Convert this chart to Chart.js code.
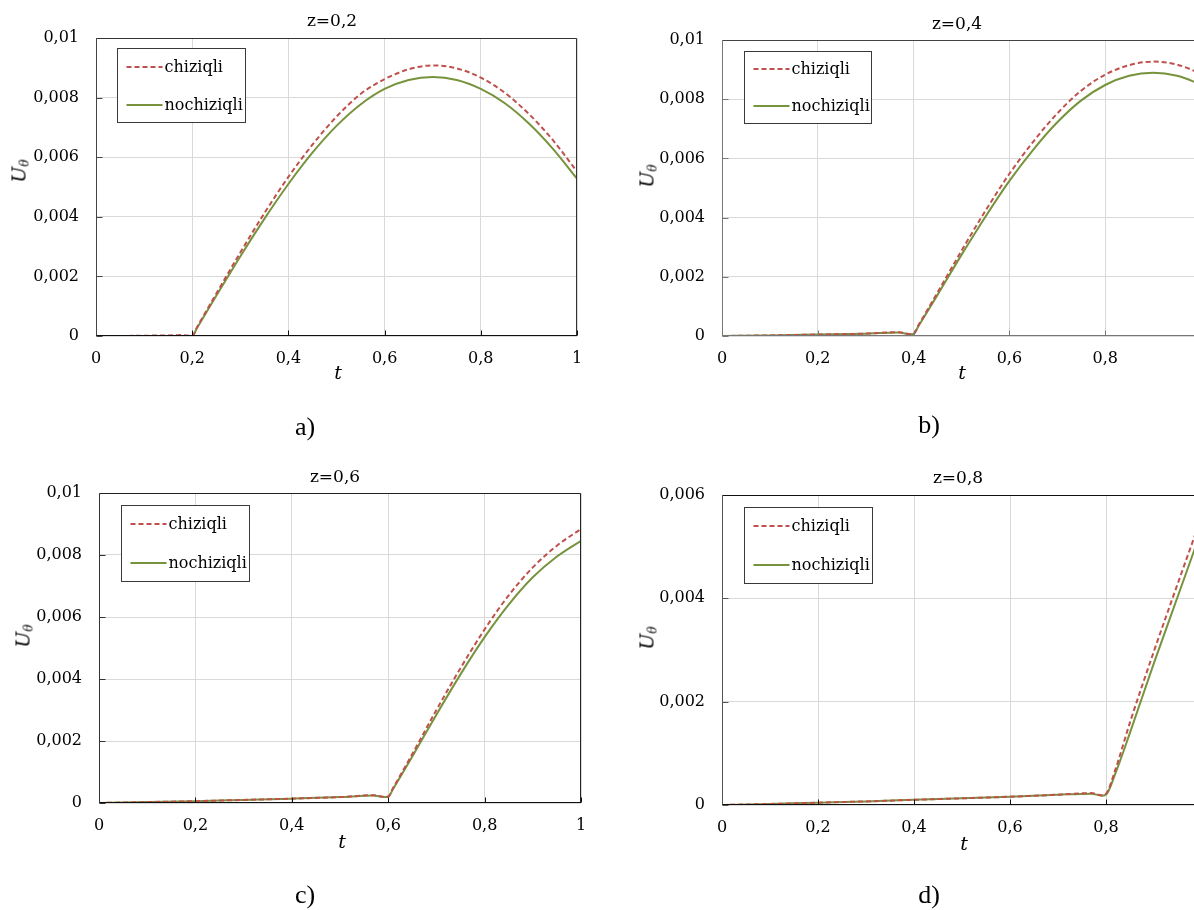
<!DOCTYPE html>
<html><head><meta charset="utf-8">
<script src="https://cdn.jsdelivr.net/npm/chart.js@4.4.1/dist/chart.umd.min.js"></script>
<style>
html,body{margin:0;padding:0;background:#fff;}
body{width:1194px;height:910px;overflow:hidden;position:relative;}
canvas{position:absolute;}
.lbl{position:absolute;transform:translate(-50%,-50%);white-space:nowrap;color:#000;line-height:1;}
.ttl{font-family:"DejaVu Serif";font-size:17px;}
.tx{font-family:"DejaVu Serif";font-style:italic;font-size:19px;}
.uy{font-family:"DejaVu Serif";font-size:19px;transform:translate(-50%,-50%) rotate(-90deg);}
.uy i{font-style:italic;}
.uy sub{font-size:12px;font-style:italic;vertical-align:-3px;}
.cap{font-family:"Liberation Serif";font-size:26px;}
</style></head><body>
<canvas id="ca" width="573" height="358" style="left:26px;top:8px;width:573px;height:358px"></canvas>
<canvas id="cb" width="571" height="356" style="left:652px;top:10px;width:571px;height:356px"></canvas>
<canvas id="cc" width="574" height="370" style="left:29px;top:463px;width:574px;height:370px"></canvas>
<canvas id="cd" width="572" height="370" style="left:652px;top:465px;width:572px;height:370px"></canvas>

<div class="lbl ttl" style="left:332px;top:20px">z=0,2</div>
<div class="lbl ttl" style="left:957px;top:23px">z=0,4</div>
<div class="lbl ttl" style="left:335px;top:476px">z=0,6</div>
<div class="lbl ttl" style="left:958px;top:477px">z=0,8</div>

<div class="lbl tx" style="left:338px;top:372px">t</div>
<div class="lbl tx" style="left:962px;top:372px">t</div>
<div class="lbl tx" style="left:342px;top:841px">t</div>
<div class="lbl tx" style="left:964px;top:843px">t</div>

<div class="lbl uy" style="left:20px;top:171px"><i>U</i><sub>θ</sub></div>
<div class="lbl uy" style="left:648px;top:176px"><i>U</i><sub>θ</sub></div>
<div class="lbl uy" style="left:24px;top:636px"><i>U</i><sub>θ</sub></div>
<div class="lbl uy" style="left:648px;top:638px"><i>U</i><sub>θ</sub></div>

<div class="lbl cap" style="left:305px;top:427px">a)</div>
<div class="lbl cap" style="left:929px;top:425px">b)</div>
<div class="lbl cap" style="left:305px;top:895px">c)</div>
<div class="lbl cap" style="left:929px;top:895px">d)</div>

<script>
// ---- data ----
const seriesLabels = ['chiziqli', 'nochiziqli'];
const tickT = [0, 0.2, 0.4, 0.6, 0.8, 1];

const tA = [0, 0.05, 0.1, 0.15, 0.18, 0.2, 0.21, 0.25, 0.3, 0.35, 0.4, 0.45, 0.5, 0.55, 0.6, 0.65, 0.7, 0.75, 0.8, 0.85, 0.9, 0.95, 1];
const chiziqliA = [0, 0, 0.00001, 0.00002, 0.00003, 0, 0.00029, 0.00142, 0.0028, 0.00412, 0.00534, 0.00642, 0.00736, 0.00812, 0.00862, 0.00895, 0.00908, 0.00898, 0.00867, 0.00816, 0.00745, 0.00657, 0.00552];
const nochiziqliA = [0, 0, 0, 0, 0, 0, 0.00027, 0.00135, 0.00267, 0.00393, 0.0051, 0.00615, 0.00705, 0.00777, 0.00829, 0.00859, 0.00869, 0.00859, 0.00829, 0.00781, 0.00713, 0.00628, 0.00528];

const tB = [0, 0.1, 0.2, 0.3, 0.37, 0.39, 0.4, 0.41, 0.45, 0.5, 0.55, 0.6, 0.65, 0.7, 0.75, 0.8, 0.85, 0.9, 0.95, 1];
const chiziqliB = [0, 0.00002, 0.00005, 0.00008, 0.00013, 0.00007, 0.00008, 0.00036, 0.00147, 0.00288, 0.00423, 0.00548, 0.00657, 0.00752, 0.00829, 0.00883, 0.00915, 0.00927, 0.00917, 0.00886];
const nochiziqliB = [0, 0.00002, 0.00005, 0.00008, 0.00012, 0.00006, 0.00007, 0.00033, 0.00139, 0.00274, 0.00403, 0.00524, 0.0063, 0.00722, 0.00796, 0.00848, 0.00879, 0.00889, 0.00879, 0.0085];

const tC = [0, 0.1, 0.2, 0.3, 0.4, 0.5, 0.57, 0.59, 0.6, 0.61, 0.65, 0.7, 0.75, 0.8, 0.85, 0.9, 0.95, 1];
const chiziqliC = [0, 0.00003, 0.00006, 0.0001, 0.00014, 0.00019, 0.00025, 0.0002, 0.00021, 0.00048, 0.00158, 0.003, 0.00435, 0.0056, 0.0067, 0.0076, 0.0083, 0.00884];
const nochiziqliC = [0, 0.00003, 0.00006, 0.0001, 0.00014, 0.00019, 0.00024, 0.00019, 0.0002, 0.00045, 0.0015, 0.00285, 0.00415, 0.00535, 0.0064, 0.00728, 0.00795, 0.00846];

const tD = [0, 0.1, 0.2, 0.3, 0.4, 0.5, 0.6, 0.7, 0.77, 0.79, 0.8, 0.82, 0.85, 0.9, 0.95, 1];
const chiziqliD = [0, 0.00002, 0.000045, 0.00007, 0.0001, 0.00013, 0.00016, 0.0002, 0.00023, 0.00019, 0.00022, 0.0007, 0.0016, 0.00298, 0.0043, 0.0056];
const nochiziqliD = [0, 0.00002, 0.000045, 0.00007, 0.0001, 0.00013, 0.00016, 0.0002, 0.00022, 0.00018, 0.0002, 0.00062, 0.0014, 0.00275, 0.00405, 0.00535];

const yMaxA = 0.01, yMaxB = 0.01, yMaxC = 0.01, yMaxD = 0.006;
const yStep = 0.002;

// ---- styling ----
const RED = '#C0504D', GREEN = '#77933C';
const FONT = 'DejaVu Serif';
const fmt = v => String(+Number(v).toFixed(4)).replace('.', ',');

const framePlugin = {
  id: 'frame',
  afterDatasetsDraw(chart, args, o) {
    const {ctx, chartArea: a} = chart;
    const L = Math.round(a.left) + 0.5, R = Math.round(a.right) - 0.5;
    const T = Math.round(a.top) + 0.5, B = Math.round(a.bottom) - 0.5;
    ctx.save();
    ctx.lineWidth = 1;
    const seg = (c, x1, y1, x2, y2) => { ctx.strokeStyle = c; ctx.beginPath(); ctx.moveTo(x1, y1); ctx.lineTo(x2, y2); ctx.stroke(); };
    const xs = chart.scales.x, ys = chart.scales.y;
    xs.ticks.forEach(tk => { const p = Math.round(xs.getPixelForValue(tk.value)) + 0.5; seg(o.bottom, p, B, p, B - 5); });
    ys.ticks.forEach(tk => { const p = Math.round(ys.getPixelForValue(tk.value)) + 0.5; seg(o.left, L, p, L + 6, p); });
    seg(o.top, L, T, R, T);
    seg(o.right, R, T, R, B);
    seg(o.bottom, L - 0.5, B, R + 0.5, B);
    seg(o.left, L, T, L, B);
    // legend box
    const lg = o.legend;
    const bx = Math.round(a.left + lg.dx) + 0.5, by = Math.round(a.top + lg.dy) + 0.5;
    ctx.fillStyle = '#fff';
    ctx.fillRect(bx, by, lg.w, lg.h);
    ctx.strokeStyle = '#3a3a3a';
    ctx.strokeRect(bx, by, lg.w, lg.h);
    chart.data.datasets.forEach((ds, i) => {
      const ry = Math.round(by + lg.rows[i]);
      ctx.strokeStyle = ds.borderColor;
      ctx.lineWidth = ds.borderWidth;
      ctx.setLineDash(ds.borderDash || []);
      ctx.beginPath(); ctx.moveTo(bx + 9, ry); ctx.lineTo(bx + 45, ry); ctx.stroke();
      ctx.setLineDash([]);
      ctx.fillStyle = '#000';
      ctx.font = '16px "' + FONT + '"';
      ctx.textBaseline = 'middle';
      ctx.textAlign = 'left';
      ctx.fillText(ds.label, bx + 47, ry + 1);
    });
    ctx.restore();
  }
};

function makeChart(id, t, red, green, ymax, frame) {
  new Chart(document.getElementById(id), {
    type: 'line',
    data: {
      datasets: [
        {label: seriesLabels[0], data: t.map((x, i) => ({x, y: red[i]})), borderColor: RED, borderWidth: 2, borderDash: [5, 3], pointRadius: 0, cubicInterpolationMode: 'monotone', fill: false},
        {label: seriesLabels[1], data: t.map((x, i) => ({x, y: green[i]})), borderColor: GREEN, borderWidth: 2, pointRadius: 0, cubicInterpolationMode: 'monotone', fill: false}
      ]
    },
    options: {
      responsive: false, animation: false, devicePixelRatio: 1,
      layout: {padding: {left: 0, top: 30, right: 22, bottom: 0}},
      plugins: {legend: {display: false}, title: {display: false}, tooltip: {enabled: false}, frame},
      scales: {
        x: {
          type: 'linear', min: tickT[0], max: tickT[tickT.length - 1],
          afterBuildTicks: s => { s.ticks = tickT.map(v => ({value: v})); },
          ticks: {callback: fmt, font: {family: FONT, size: 16}, color: '#000', padding: 13, maxRotation: 0, autoSkip: false},
          grid: {color: '#D9D9D9', drawTicks: false, lineWidth: 1},
          border: {display: false},
          afterFit: s => { s.height = 30; }
        },
        y: {
          type: 'linear', min: 0, max: ymax,
          ticks: {stepSize: yStep, callback: fmt, font: {family: FONT, size: 16}, color: '#000', padding: 17},
          grid: {color: '#D9D9D9', drawTicks: false, lineWidth: 1},
          border: {display: false},
          afterFit: s => { s.width = 70; }
        }
      }
    },
    plugins: [framePlugin]
  });
}

makeChart('ca', tA, chiziqliA, nochiziqliA, yMaxA,
  {top: '#333', right: '#333', bottom: '#111', left: '#444', legend: {dx: 21, dy: 10, w: 128, h: 74, rows: [18, 56]}});
makeChart('cb', tB, chiziqliB, nochiziqliB, yMaxB,
  {top: '#444', right: '#444', bottom: '#777', left: '#777', legend: {dx: 22, dy: 11, w: 127, h: 72, rows: [17, 54]}});
makeChart('cc', tC, chiziqliC, nochiziqliC, yMaxC,
  {top: '#222', right: '#222', bottom: '#111', left: '#333', legend: {dx: 22, dy: 12, w: 128, h: 76, rows: [18, 57]}});
makeChart('cd', tD, chiziqliD, nochiziqliD, yMaxD,
  {top: '#111', right: '#111', bottom: '#111', left: '#555', legend: {dx: 22, dy: 12, w: 128, h: 76, rows: [18, 57]}});
</script>
</body></html>
